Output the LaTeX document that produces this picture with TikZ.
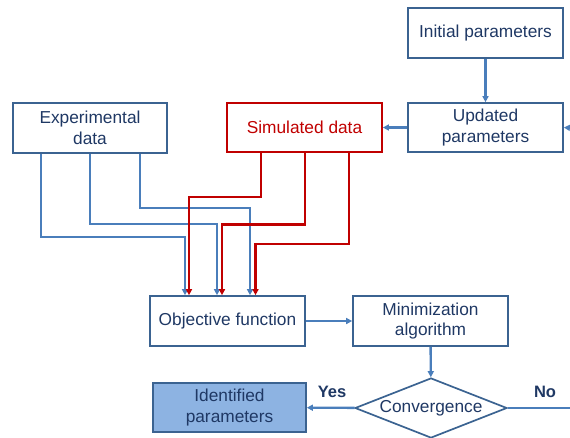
\documentclass[tikz,border=0pt]{standalone}
\usepackage{fontspec}
\setmainfont{Liberation Sans}
\usetikzlibrary{shapes.geometric,arrows.meta}
\definecolor{navy}{HTML}{1F3864}
\definecolor{bord}{HTML}{3B6391}
\definecolor{lineb}{HTML}{4A7EBB}
\definecolor{redc}{HTML}{C00000}
\definecolor{fillb}{HTML}{8DB3E2}
\tikzset{
  box/.style={draw=bord, line width=1.7pt, minimum width=155pt, minimum height=50pt,
    inner sep=0pt, align=center, text=navy, font=\fontsize{17.3}{20.5}\selectfont},
  redbox/.style={box, draw=redc, text=redc},
  bl/.style={draw=lineb, line width=2.4pt},
  rd/.style={draw=redc, line width=2.4pt},
  arr/.style={-{Triangle[length=6pt,width=6pt]}},
  lbl/.style={text=navy, font=\fontsize{16.5}{19}\selectfont\bfseries}
}
\begin{document}
\begin{tikzpicture}[x=1pt,y=-1pt]
\useasboundingbox (0,0) rectangle (570,437);
\node[box] (init) at (485.5,33) {Initial parameters};
\node[box, minimum height=49pt] (upd) at (485.5,127.5) {Updated\\parameters};
\node[redbox, minimum height=49pt] (sim) at (304.5,127.5) {Simulated data};
\node[box, minimum width=154pt] (exp) at (90,128) {Experimental\\data};
\node[box] (obj) at (227.5,321) {Objective function};
\node[box] (min) at (430.5,321) {Minimization\\algorithm};
\node[draw=bord, line width=1.7pt, shape=diamond, aspect=2.5, inner sep=0pt,
  minimum width=152pt, minimum height=60pt, text=navy,
  font=\fontsize{17.3}{20.5}\selectfont] (conv) at (431,408) {Convergence};
\node[box, fill=fillb, minimum width=153pt, minimum height=49pt] (ident) at (229.5,407.5) {Identified\\parameters};
\node[lbl] (yes) at (332,392) {Yes};
\node[lbl] (no) at (545,392) {No};
\coordinate (rin) at (572,128);
\coordinate (rout) at (572,408);

\draw[bl, arr] (init) -- (upd);
\draw[bl, arr] (rin) -- (upd.east);
\draw[bl, arr] (upd) -- (sim);
\draw[bl, arr] (obj) -- (min);
\draw[bl, arr] (min) -- (conv);
\draw[bl, arr] (conv) -- (ident);
\draw[bl] (conv.east) -- (rout);

\draw[bl, arr] ([xshift=-49pt]exp.south) |- (185,237) -- ([xshift=-42.5pt]obj.north);
\draw[bl, arr] (exp.south) |- (217,224) -- ([xshift=-10.5pt]obj.north);
\draw[bl, arr] ([xshift=50pt]exp.south) |- (250,208) -- ([xshift=22.5pt]obj.north);

\draw[rd, arr] ([xshift=-43.5pt]sim.south) |- (189,197) -- ([xshift=-38.5pt]obj.north);
\draw[rd, arr] ([xshift=0.5pt]sim.south) |- (222,224.5) -- ([xshift=-5.5pt]obj.north);
\draw[rd, arr] ([xshift=44.5pt]sim.south) |- (255.5,244) -- ([xshift=28pt]obj.north);
\end{tikzpicture}
\end{document}
